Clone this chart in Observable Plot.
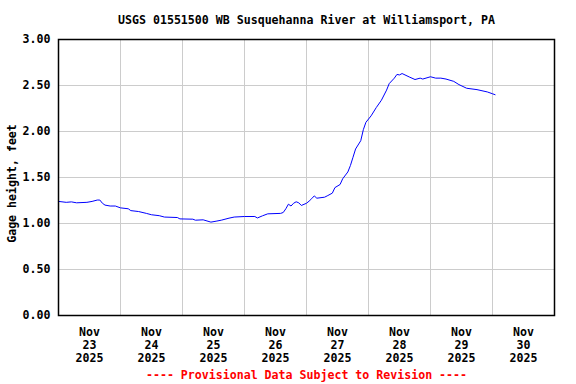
<!DOCTYPE html>
<html>
<head>
<meta charset="utf-8">
<script src="https://cdn.jsdelivr.net/npm/d3@7"></script>
<script src="https://cdn.jsdelivr.net/npm/@observablehq/plot@0.6"></script>
<style>
  html, body { margin: 0; padding: 0; background: #fff; }
</style>
</head>
<body>
<div id="chart"></div>
<script>
const titleText = "USGS 01551500 WB Susquehanna River at Williamsport, PA";
const yLabelText = "Gage height, feet";
const captionText = "---- Provisional Data Subject to Revision ----";

// hours since 2025-11-23 00:00
const hours = [0,3,5,7,11,13,15,16,17,18,20,22,24,27,28,31,34,36,39,41,46,47,52,53,56,59,61,63,66,68,72,76,77,79,81,86,87,88,89,90,91,92,93,94,96,97,98,99,100,103,104,106,107,109,110,112,113,114,115,117,118,119,121,123,125,127,128,130,131,132,133,136,138,140,141,144,146,148,150,153,155,158,162,166,168,169];
// gage height, feet
const gage = [1.24,1.23,1.235,1.225,1.23,1.24,1.255,1.255,1.22,1.20,1.19,1.19,1.17,1.16,1.14,1.13,1.11,1.095,1.085,1.07,1.065,1.05,1.047,1.036,1.04,1.015,1.025,1.036,1.058,1.07,1.076,1.076,1.06,1.084,1.105,1.11,1.12,1.16,1.21,1.19,1.22,1.236,1.225,1.196,1.22,1.243,1.27,1.30,1.275,1.286,1.30,1.33,1.39,1.424,1.486,1.56,1.63,1.72,1.81,1.90,2.02,2.10,2.17,2.26,2.34,2.45,2.52,2.58,2.62,2.615,2.63,2.59,2.565,2.58,2.57,2.595,2.58,2.58,2.57,2.545,2.51,2.47,2.455,2.43,2.41,2.40];

const dayLabels = [23,24,25,26,27,28,29,30];
const yTicks = [0,0.5,1,1.5,2,2.5,3];

const t0 = Date.UTC(2025, 10, 23);
const HOUR = 3600e3, DAY = 24 * HOUR;
const data = hours.map((h, i) => ({date: new Date(t0 + h * HOUR), value: gage[i]}));
const dayStarts = dayLabels.slice(1).map((d) => new Date(Date.UTC(2025, 10, d)));
const dayNoons = dayLabels.map((d) => new Date(Date.UTC(2025, 10, d, 12)));
const months = ["Jan","Feb","Mar","Apr","May","Jun","Jul","Aug","Sep","Oct","Nov","Dec"];

const font = "'DejaVu Sans Mono', 'Liberation Mono', monospace";

const chart = Plot.plot({
  width: 576,
  height: 384,
  marginTop: 39,
  marginLeft: 58,
  marginRight: 22,
  marginBottom: 69,
  style: {fontFamily: font, fontSize: "11.6px", fontWeight: "bold", color: "black", background: "white"},
  x: {type: "utc", domain: [new Date(t0), new Date(t0 + 8 * DAY)]},
  y: {domain: [0, 3]},
  marks: [
    Plot.gridX(dayStarts, {stroke: "#cccccc", strokeOpacity: 1}),
    Plot.gridY(yTicks.slice(1, -1), {stroke: "#cccccc", strokeOpacity: 1}),
    Plot.axisX(dayNoons, {
      tickSize: 0, tickPadding: 11, lineHeight: 1.12,
      tickFormat: (d) => `${months[d.getUTCMonth()]}\n${d.getUTCDate()}\n${d.getUTCFullYear()}`,
      label: null, fill: "black"
    }),
    Plot.axisY(yTicks, {tickSize: 0, tickPadding: 8, tickFormat: (d) => d.toFixed(2), label: null, fill: "black"}),
    Plot.line(data, {x: "date", y: "value", stroke: "#0000ff", strokeWidth: 1}),
    Plot.frame({stroke: "black", strokeWidth: 1.5}),
    Plot.text([titleText], {frameAnchor: "top", dy: -19, lineAnchor: "middle", fill: "black", fontSize: 11.6}),
    Plot.text([yLabelText], {frameAnchor: "left", dx: -46.5, dy: 6, rotate: -90, textAnchor: "middle", lineAnchor: "middle", fill: "black"}),
    Plot.text([captionText], {frameAnchor: "bottom", dy: 60, lineAnchor: "middle", fill: "#ff0000"})
  ]
});
document.getElementById("chart").appendChild(chart);
</script>
</body>
</html>
